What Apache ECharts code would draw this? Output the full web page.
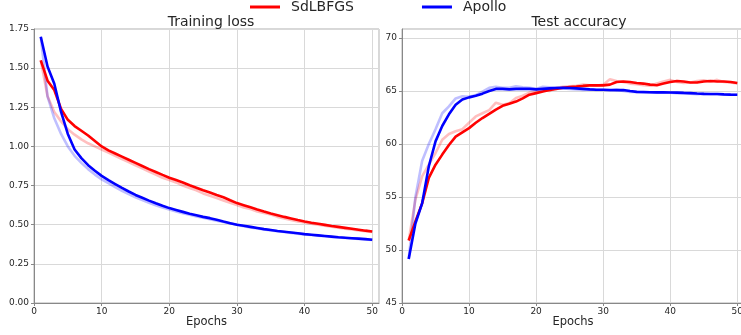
<!DOCTYPE html>
<html>
<head>
<meta charset="utf-8">
<script src="https://cdn.jsdelivr.net/npm/echarts@6/dist/echarts.min.js"></script>
<style>html,body{margin:0;padding:0;background:#fff;}#c{width:741px;height:335px;}</style>
</head>
<body>
<div id="c"></div>
<script>
var epochs = [1,2,3,4,5,6,7,8,9,10,11,12,13,14,15,16,17,18,19,20,21,22,23,24,25,26,27,28,29,30,31,32,33,34,35,36,37,38,39,40,41,42,43,44,45,46,47,48,49,50];
var seriesNames = ['SdLBFGS', 'Apollo'];
var panelTitles = ['Training loss', 'Test accuracy'];
var xLabel = 'Epochs';

// Training loss (smoothed, bold)
var lossSdLBFGS = [1.55,1.42,1.36,1.24,1.17,1.13,1.10,1.07,1.035,1.00,0.975,0.955,0.935,0.915,0.895,0.875,0.855,0.837,0.818,0.80,0.785,0.77,0.752,0.736,0.72,0.706,0.69,0.675,0.656,0.638,0.625,0.611,0.597,0.584,0.572,0.561,0.55,0.54,0.53,0.521,0.513,0.506,0.499,0.492,0.486,0.48,0.474,0.468,0.462,0.457];
var lossApollo = [1.70,1.51,1.40,1.22,1.08,0.98,0.925,0.88,0.845,0.812,0.785,0.76,0.735,0.712,0.69,0.672,0.654,0.637,0.621,0.606,0.594,0.582,0.57,0.56,0.55,0.542,0.531,0.52,0.51,0.50,0.493,0.486,0.479,0.472,0.466,0.46,0.455,0.45,0.445,0.44,0.436,0.432,0.428,0.424,0.42,0.417,0.414,0.411,0.408,0.404];
// Training loss (raw, faint)
var lossSdLBFGSRaw = [1.55,1.32,1.22,1.16,1.11,1.075,1.045,1.02,1.0,0.98,0.96,0.94,0.92,0.90,0.88,0.86,0.84,0.82,0.80,0.785,0.77,0.75,0.735,0.72,0.70,0.685,0.67,0.655,0.64,0.625,0.61,0.60,0.585,0.575,0.565,0.55,0.54,0.53,0.52,0.515,0.507,0.50,0.493,0.487,0.481,0.475,0.469,0.464,0.458,0.453];
var lossApolloRaw = [1.70,1.32,1.18,1.08,1.00,0.94,0.895,0.855,0.82,0.79,0.765,0.74,0.717,0.695,0.675,0.657,0.64,0.624,0.61,0.597,0.585,0.574,0.563,0.553,0.544,0.535,0.526,0.517,0.509,0.50,0.49,0.483,0.476,0.47,0.464,0.458,0.453,0.448,0.443,0.438,0.434,0.43,0.426,0.422,0.419,0.415,0.412,0.409,0.406,0.403];

// Test accuracy (smoothed, bold)
var accSdLBFGS = [50.9,52.7,54.4,56.8,58.05,59.0,59.9,60.7,61.1,61.5,62.0,62.45,62.85,63.25,63.6,63.8,64.0,64.3,64.65,64.8,64.95,65.1,65.2,65.3,65.38,65.42,65.48,65.53,65.55,65.53,65.6,65.85,65.9,65.85,65.75,65.7,65.6,65.55,65.7,65.85,65.95,65.9,65.8,65.8,65.9,65.95,65.9,65.9,65.85,65.75];
var accApollo = [49.15,52.5,54.4,57.9,60.25,61.7,62.8,63.7,64.2,64.4,64.55,64.75,65.0,65.2,65.2,65.15,65.2,65.2,65.2,65.15,65.2,65.25,65.28,65.3,65.28,65.25,65.2,65.15,65.12,65.12,65.1,65.08,65.1,65.0,64.92,64.9,64.88,64.87,64.87,64.86,64.85,64.82,64.8,64.76,64.73,64.72,64.72,64.68,64.66,64.65];
// Test accuracy (raw, faint)
var accSdLBFGSRaw = [50.9,54.75,56.95,58.05,59.15,60.4,60.95,61.2,61.4,62.0,62.6,62.9,63.2,63.9,63.7,63.85,64.35,64.55,64.85,64.95,65.1,65.0,65.3,65.4,65.45,65.5,65.6,65.55,65.5,65.6,66.1,65.95,65.85,65.7,65.65,65.55,65.5,65.7,65.9,66.05,65.85,65.75,65.8,65.95,66.0,65.9,66.05,65.85,65.8,65.7];
var accApolloRaw = [49.15,55.0,58.4,60.0,61.4,62.9,63.55,64.3,64.5,64.45,64.6,64.95,65.3,65.4,65.3,65.3,65.45,65.35,65.3,65.2,65.4,65.35,65.3,65.25,65.2,65.15,65.1,65.15,65.1,65.1,65.05,65.15,65.0,64.9,64.9,64.85,64.85,64.85,64.85,64.85,64.8,64.8,64.75,64.7,64.75,64.7,64.7,64.65,64.65,64.65];

var RED = '#ff0000', BLUE = '#0000ff';
var FONT = 'DejaVu Sans';

function pairs(ys) { return epochs.map(function (e, i) { return [e, ys[i]]; }); }
function line(name, ys, xi, color, faint) {
  return {
    name: name, type: 'line', xAxisIndex: xi, yAxisIndex: xi,
    data: pairs(ys), showSymbol: false, symbol: 'none', silent: true,
    lineStyle: { color: color, width: 2.6, opacity: faint ? 0.25 : 1 },
    itemStyle: { color: color }, z: faint ? 2 : 3, animation: false
  };
}
function xAx(gi) {
  return {
    type: 'value', gridIndex: gi, min: 0, max: 51, interval: 10,
    name: xLabel, nameLocation: 'middle', nameGap: 13, nameMoveOverlap: false,
    nameTextStyle: { fontFamily: FONT, fontSize: 11.5, color: '#262626', verticalAlign: 'top' },
    axisLine: { show: true, onZero: false, lineStyle: { color: '#888', width: 1 } },
    axisTick: { show: true, length: 3, lineStyle: { color: '#888' } },
    axisLabel: { fontFamily: FONT, fontSize: 9, color: '#262626', margin: 4, showMaxLabel: false, hideOverlap: false },
    splitLine: { show: true, lineStyle: { color: '#d9d9d9', width: 1 } }
  };
}
function yAx(gi, mn, mx, iv, fmt) {
  return {
    type: 'value', gridIndex: gi, min: mn, max: mx, interval: iv,
    axisLine: { show: true, onZero: false, lineStyle: { color: '#888', width: 1 } },
    axisTick: { show: true, length: 3, lineStyle: { color: '#888' } },
    axisLabel: { fontFamily: FONT, fontSize: 9, color: '#262626', margin: 5, showMaxLabel: fmt === 'loss', formatter: function (v) { return fmt === 'loss' ? v.toFixed(2) : String(v); } },
    splitLine: { show: true, lineStyle: { color: '#d9d9d9', width: 1 } }
  };
}

var chart = echarts.init(document.getElementById('c'), null, { renderer: 'canvas' });
chart.setOption({
  animation: false,
  backgroundColor: '#fff',
  title: [
    { text: panelTitles[0], left: 206, top: 10, textAlign: 'center', textStyle: { fontFamily: FONT, fontSize: 14, fontWeight: 'normal', color: '#262626' } },
    { text: panelTitles[1], left: 574, top: 10, textAlign: 'center', textStyle: { fontFamily: FONT, fontSize: 14, fontWeight: 'normal', color: '#262626' } }
  ],
  legend: {
    data: [
      { name: seriesNames[0], icon: 'rect', itemStyle: { color: RED } },
      { name: seriesNames[1], icon: 'rect', itemStyle: { color: BLUE } }
    ],
    left: 245, top: -5, itemWidth: 30, itemHeight: 3, itemGap: 68,
    textStyle: { fontFamily: FONT, fontSize: 14, color: '#262626', padding: [0, 0, 0, 6] }
  },
  grid: [
    { left: 34, top: 29, width: 345, height: 274, show: true, borderColor: '#b0b0b0', borderWidth: 1, containLabel: false, outerBoundsMode: 'none' },
    { left: 402, top: 29, width: 342, height: 274, show: true, borderColor: '#b0b0b0', borderWidth: 1, containLabel: false, outerBoundsMode: 'none' }
  ],
  xAxis: [xAx(0), xAx(1)],
  yAxis: [yAx(0, 0, 1.75, 0.25, 'loss'), yAx(1, 45, 70.85, 5, 'acc')],
  series: [
    line(seriesNames[0] + ' raw', lossSdLBFGSRaw, 0, RED, true),
    line(seriesNames[1] + ' raw', lossApolloRaw, 0, BLUE, true),
    line(seriesNames[0], lossSdLBFGS, 0, RED, false),
    line(seriesNames[1], lossApollo, 0, BLUE, false),
    line(seriesNames[0] + ' raw acc', accSdLBFGSRaw, 1, RED, true),
    line(seriesNames[1] + ' raw acc', accApolloRaw, 1, BLUE, true),
    line(seriesNames[0], accSdLBFGS, 1, RED, false),
    line(seriesNames[1], accApollo, 1, BLUE, false)
  ]
});
</script>
</body>
</html>
